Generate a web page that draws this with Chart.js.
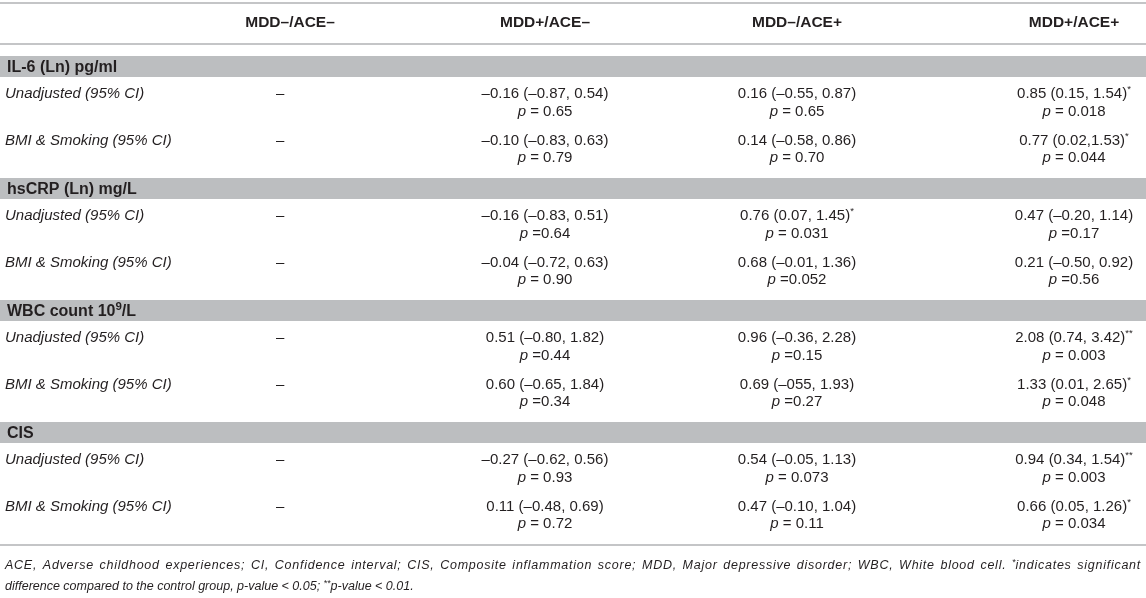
<!DOCTYPE html>
<html>
<head>
<meta charset="utf-8">
<script src="https://cdn.jsdelivr.net/npm/chart.js@4/dist/chart.umd.min.js"></script>
<style>
  body { margin: 0; background: #fff; }
  #wrap { width: 1146px; height: 598px; position: relative; }
</style>
</head>
<body>
<div id="wrap"><canvas id="table"></canvas></div>
<script>
// table content
const groups = ['MDD\u2013/ACE\u2013', 'MDD+/ACE\u2013', 'MDD\u2013/ACE+', 'MDD+/ACE+'];
const markers = ['IL-6 (Ln) pg/ml', 'hsCRP (Ln) mg/L', 'WBC count 10^9/L', 'CIS'];
const models = ['Unadjusted (95% CI)', 'BMI & Smoking (95% CI)'];
const reference = '\u2013';

// one entry per marker x model (IL-6 unadj, IL-6 adj, hsCRP unadj, ...)
const mddPosAceNegEst = ['\u20130.16 (\u20130.87, 0.54)', '\u20130.10 (\u20130.83, 0.63)',
  '\u20130.16 (\u20130.83, 0.51)', '\u20130.04 (\u20130.72, 0.63)',
  '0.51 (\u20130.80, 1.82)', '0.60 (\u20130.65, 1.84)',
  '\u20130.27 (\u20130.62, 0.56)', '0.11 (\u20130.48, 0.69)'];
const mddPosAceNegP = ['= 0.65', '= 0.79', '=0.64', '= 0.90', '=0.44', '=0.34', '= 0.93', '= 0.72'];

const mddNegAcePosEst = ['0.16 (\u20130.55, 0.87)', '0.14 (\u20130.58, 0.86)',
  '0.76 (0.07, 1.45)*', '0.68 (\u20130.01, 1.36)',
  '0.96 (\u20130.36, 2.28)', '0.69 (\u2013055, 1.93)',
  '0.54 (\u20130.05, 1.13)', '0.47 (\u20130.10, 1.04)'];
const mddNegAcePosP = ['= 0.65', '= 0.70', '= 0.031', '=0.052', '=0.15', '=0.27', '= 0.073', '= 0.11'];

const mddPosAcePosEst = ['0.85 (0.15, 1.54)*', '0.77 (0.02,1.53)*',
  '0.47 (\u20130.20, 1.14)', '0.21 (\u20130.50, 0.92)',
  '2.08 (0.74, 3.42)**', '1.33 (0.01, 2.65)*',
  '0.94 (0.34, 1.54)**', '0.66 (0.05, 1.26)*'];
const mddPosAcePosP = ['= 0.018', '= 0.044', '=0.17', '=0.56', '= 0.003', '= 0.048', '= 0.003', '= 0.034'];

const footnote = [
  'ACE, Adverse childhood experiences; CI, Confidence interval; CIS, Composite inflammation score; MDD, Major depressive disorder; WBC, White blood cell. ^*indicates significant',
  'difference compared to the control group, p-value < 0.05; ^**p-value < 0.01.'
];

// layout (in scale units, same as canvas px)
const FONT = "'Liberation Sans', Arial, sans-serif";
const INK = '#231f20';
const BAND = '#bcbec0';
const colX = [5, 290, 545, 797, 1074];
const dashX = 276;
const headerY = 23;
const blockTop = [56, 178, 300, 422];
const bandH = 21;
const lineOffsets = [38, 56, 85, 102];
const rules = [3, 44, 545];
const footY = [566, 587];

// build the cell anchors
const cells = [];
groups.forEach((g, i) => cells.push({ x: colX[i + 1], y: headerY, kind: 'header', text: g }));
const estCols = [mddPosAceNegEst, mddNegAcePosEst, mddPosAcePosEst];
const pCols = [mddPosAceNegP, mddNegAcePosP, mddPosAcePosP];
markers.forEach((m, mi) => {
  const top = blockTop[mi];
  cells.push({ x: colX[0] + 2, y: top + bandH / 2 + 1, kind: 'band', text: m });
  models.forEach((mod, k) => {
    const r = mi * 2 + k;
    const y1 = top + lineOffsets[k * 2];
    const y2 = top + lineOffsets[k * 2 + 1];
    cells.push({ x: colX[0], y: y1, kind: 'label', text: mod });
    cells.push({ x: dashX, y: y1, kind: 'dash', text: reference });
    estCols.forEach((col, c) => {
      cells.push({ x: colX[c + 2], y: y1, kind: 'est', text: col[r] });
      cells.push({ x: colX[c + 2], y: y2, kind: 'p', text: pCols[c][r] });
    });
  });
});
footnote.forEach((t, i) => cells.push({ x: colX[0], y: footY[i], kind: 'foot', text: t, justify: i === 0 }));

// text helpers
function segmentsFor(cell) {
  if (cell.kind === 'header') return [{ t: cell.text, w: 'bold', s: 15.5 }];
  if (cell.kind === 'band') {
    const parts = cell.text.split('^');
    if (parts.length === 1) return [{ t: cell.text, w: 'bold', s: 16 }];
    const m = parts[1].match(/^(\d+)(.*)$/);
    return [{ t: parts[0], w: 'bold', s: 16 }, { t: m[1], w: 'bold', s: 11.5, up: 5 }, { t: m[2], w: 'bold', s: 16 }];
  }
  if (cell.kind === 'label') return [{ t: cell.text, st: 'italic', s: 15 }];
  if (cell.kind === 'dash') return [{ t: cell.text, s: 15 }];
  if (cell.kind === 'est') {
    const m = cell.text.match(/^(.*?)(\**)$/);
    const segs = [{ t: m[1], s: 15 }];
    if (m[2]) segs.push({ t: m[2], s: 9.5, up: 5 });
    return segs;
  }
  if (cell.kind === 'p') return [{ t: 'p', st: 'italic', s: 15 }, { t: ' ' + cell.text, s: 15 }];
  if (cell.kind === 'foot') {
    const out = [];
    cell.text.split(/(\^\*+)/).forEach(p => {
      if (!p) return;
      if (p[0] === '^') out.push({ t: p.slice(1), st: 'italic', s: 9, up: 4 });
      else out.push({ t: p, st: 'italic', s: 12.5 });
    });
    return out;
  }
  return [{ t: cell.text, s: 15 }];
}
function fontOf(sg) {
  return (sg.st || 'normal') + ' ' + (sg.w || 'normal') + ' ' + sg.s + 'px ' + FONT;
}

const tablePlugin = {
  id: 'tablePlugin',
  beforeDatasetsDraw(chart) {
    const ctx = chart.ctx, xs = chart.scales.x, ys = chart.scales.y;
    const left = xs.getPixelForValue(0), right = xs.getPixelForValue(1146);
    ctx.save();
    ctx.fillStyle = BAND;
    blockTop.forEach(t => {
      const y0 = ys.getPixelForValue(t), y1 = ys.getPixelForValue(t + bandH);
      ctx.fillRect(left, y0, right - left, y1 - y0);
    });
    ctx.fillStyle = '#c4c5c7';
    rules.forEach(r => {
      const y = ys.getPixelForValue(r);
      ctx.fillRect(left, y - 1, right - left, 2);
    });
    ctx.restore();
  },
  afterDatasetsDraw(chart) {
    const ctx = chart.ctx;
    const meta = chart.getDatasetMeta(0);
    const raw = chart.data.datasets[0].data;
    ctx.save();
    ctx.textBaseline = 'middle';
    ctx.fillStyle = INK;
    meta.data.forEach((el, i) => {
      const cell = raw[i];
      const segs = segmentsFor(cell);
      let total = 0;
      segs.forEach(sg => { ctx.font = fontOf(sg); sg.width = ctx.measureText(sg.t).width; total += sg.width; });
      let x = el.x;
      const centered = cell.kind === 'header' || cell.kind === 'est' || cell.kind === 'p';
      if (centered) x -= total / 2;
      let extra = 0;
      if (cell.justify) {
        // spread the missing width over every glyph gap, spaces a bit more
        const target = chart.scales.x.getPixelForValue(1141) - el.x;
        let slots = 0;
        segs.forEach(sg => { if (!sg.up) for (const ch of sg.t) slots += ch === ' ' ? 3 : 1; });
        extra = (target - total) / slots;
      }
      segs.forEach(sg => {
        ctx.font = fontOf(sg);
        const y = el.y - (sg.up || 0);
        if (extra && !sg.up) {
          for (const ch of sg.t) {
            ctx.fillText(ch, x, y);
            x += ctx.measureText(ch).width + (ch === ' ' ? 3 : 1) * extra;
          }
        } else {
          ctx.fillText(sg.t, x, y);
          x += sg.width;
        }
      });
    });
    ctx.restore();
  }
};

new Chart(document.getElementById('table'), {
  type: 'scatter',
  data: { datasets: [{ data: cells, pointRadius: 0, pointHoverRadius: 0 }] },
  options: {
    animation: false,
    responsive: true,
    maintainAspectRatio: false,
    layout: { padding: 0 },
    events: [],
    plugins: { legend: { display: false }, tooltip: { enabled: false } },
    scales: {
      x: { type: 'linear', min: 0, max: 1146, display: false },
      y: { type: 'linear', min: 0, max: 598, reverse: true, display: false }
    }
  },
  plugins: [tablePlugin]
});
</script>
</body>
</html>
